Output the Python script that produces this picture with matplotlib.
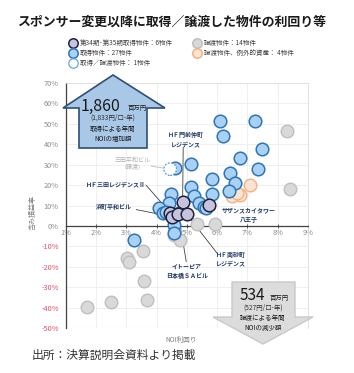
import matplotlib
matplotlib.use('Agg')
import matplotlib.pyplot as plt
from matplotlib.patches import Polygon
from matplotlib.lines import Line2D

plt.rcParams['font.family'] = ['Noto Sans CJK JP', 'DejaVu Sans']

# data: NOI yield (%) and unrealised gain ratio (%)
acq_x = [6.09, 7.24, 6.20, 7.48, 6.77, 7.35, 6.44, 6.58, 5.82, 6.39, 5.82, 5.13, 4.62, 5.13,
         5.24, 4.48, 5.40, 5.57, 4.40, 4.09, 4.20, 4.75, 4.58, 4.56, 3.27, 4.30, 5.62]
acq_y = [51.4, 51.4, 43.9, 37.9, 33.5, 28.1, 26.0, 21.1, 22.8, 17.2, 15.6, 30.4, 28.3, 19.2,
         14.6, 15.6, 11.1, 9.4, 11.1, 8.6, 6.5, 6.2, 0.3, -3.5, -6.8, 7.0, 9.0]

new_names = ['ＨＦ門前仲町\nレジデンス', 'サザンスカイタワー\n八王子', 'ＨＦ三田レジデンスⅡ',
             '浜町平和ビル', 'イトーピア\n日本橋ＳＡビル', 'ＨＦ南砂町\nレジデンス']
new_x = [4.86, 5.73, 4.45, 4.50, 4.72, 5.00]
new_y = [11.9, 10.2, 6.5, 4.5, 5.7, 5.7]

sold_x = [8.32, 8.41, 5.35, 5.92, 4.56, 4.62, 4.78, 3.55, 3.02, 3.08, 3.58, 3.69, 2.49, 1.69]
sold_y = [46.5, 17.9, 1.0, 1.0, -4.4, -2.5, -6.8, -12.5, -15.8, -17.9, -26.8, -36.1, -37.4, -39.7]

exc_x = [7.08, 6.77, 6.50, 6.65]
exc_y = [20.0, 15.3, 14.8, 16.3]

swap_x = [4.45]
swap_y = [27.8]

# label text position and leader start (data coords)
new_label_xy = [(4.97, 42.5), (7.05, 5.5), (2.65, 20.5), (2.6, 9.4), (5.0, -22.0), (6.45, -16.0)]
new_line_from = [(4.88, 38.5), (5.95, 8.4), (3.65, 20.0), (3.33, 8.0), (4.98, -17.5), (6.02, -13.8)]

W, H = 354, 373
fig = plt.figure(figsize=(W / 100, H / 100), dpi=100)


def fx(px):
    return px / W


def fy(py):
    return 1 - py / H


ax = fig.add_axes([fx(65.7), fy(328), (308 - 65.7) / W, (328 - 83) / H])
ax.set_xlim(1, 9)
ax.set_ylim(-50, 70)
ax.set_xticks(range(1, 10))
ax.set_yticks(range(-50, 71, 10))
ax.set_xticklabels([f'{v}%' for v in range(1, 10)])
ax.set_yticklabels([f'{v}%' for v in range(-50, 71, 10)])
ax.grid(True, color='#ececec', lw=0.6)
ax.set_axisbelow(True)

for s in ['top', 'right']:
    ax.spines[s].set_color('#dddddd')
    ax.spines[s].set_linewidth(0.6)
ax.spines['left'].set_color('#404040')
ax.spines['left'].set_linewidth(0.9)
ax.spines['bottom'].set_position(('data', 0))
ax.spines['bottom'].set_color('#404040')
ax.spines['bottom'].set_linewidth(0.9)
ax.axhline(-50, color='#dddddd', lw=0.8, zorder=0)
ax.tick_params(axis='x', direction='inout', length=3, width=0.6, color='#404040',
               labelsize=5.3, labelcolor='#8c8c8c', pad=1)
ax.tick_params(axis='y', direction='in', length=0, labelsize=5.3, labelcolor='#8c8c8c', pad=5)
for lbl in ax.get_yticklabels():
    if lbl.get_text().startswith('-'):
        lbl.set_color('#e0506a')

ax.text(-0.135, 0.47, '含み損益率', transform=ax.transAxes, rotation=90,
        fontsize=5, color='#7f7f7f', ha='center', va='center')
fig.text(fx(181), fy(340), 'NOI利回り', fontsize=4.8, color='#7f7f7f', ha='center', va='center')

ms = 82
ax.scatter(sold_x, sold_y, s=ms, c='#d9d9d9', edgecolors='#bfbfbf', linewidths=1.0, zorder=3)
ax.scatter(exc_x, exc_y, s=ms, c='#fce4d2', edgecolors='#f4b183', linewidths=1.0, zorder=3)
ax.scatter(acq_x, acq_y, s=ms, c='#a9d0f5', edgecolors='#2e75b6', linewidths=1.1, zorder=4)
ax.scatter(swap_x, swap_y, s=ms, c='white', edgecolors='#5b9bd5', linewidths=0.9,
           linestyles=(0, (1.5, 1.2)), zorder=5)
ax.scatter(new_x, new_y, s=ms, c='#c8c3dd', edgecolors='#1c2340', linewidths=1.1, zorder=6)

for name, px, py, (lx, ly), (sx, sy) in zip(new_names, new_x, new_y, new_label_xy, new_line_from):
    ax.annotate('', xy=(px, py), xytext=(sx, sy),
                arrowprops=dict(arrowstyle='-', color='#404040', lw=0.6, shrinkA=0, shrinkB=0),
                zorder=2)
    ax.text(lx, ly, name, fontsize=4.3, fontweight='bold', color='#1f3864',
            ha='center', va='center', linespacing=1.3, zorder=7)

ax.annotate('', xy=(swap_x[0], swap_y[0]), xytext=(3.82, 29.3),
            arrowprops=dict(arrowstyle='-', color='#bfbfbf', lw=0.6, shrinkA=0, shrinkB=3),
            zorder=2)
ax.text(3.22, 30.6, '三田平和ビル\n(譲渡)', fontsize=4.3, color='#b0b0b0',
        ha='center', va='center', linespacing=1.3)

# up arrow (acquisition)
up = [(113, 75), (165, 108), (147, 108), (147, 148), (79, 148), (79, 108), (63, 108)]
fig.add_artist(Polygon([(fx(a), fy(b)) for a, b in up], closed=True, transform=fig.transFigure,
                       facecolor='#a9c8e8', edgecolor='#2f4f74', lw=1.2, zorder=8))
fig.text(fx(101), fy(106), '1,860', fontsize=11.5, color='#1a1a1a', ha='center', va='center', zorder=9)
fig.text(fx(137), fy(108), '百万円', fontsize=4.6, color='#1a1a1a', ha='center', va='center', zorder=9)
fig.text(fx(113), fy(118), '(1,833円/口-年)', fontsize=4.7, color='#333333', ha='center', va='center', zorder=9)
fig.text(fx(113), fy(134), '取得による年間\nNOIの増加額', fontsize=4.7, color='#1a1a1a',
         ha='center', va='center', linespacing=1.3, zorder=9)

# down arrow (disposition)
down = [(232, 282), (295, 282), (295, 317), (313, 317), (263, 344), (213, 317), (232, 317)]
fig.add_artist(Polygon([(fx(a), fy(b)) for a, b in down], closed=True, transform=fig.transFigure,
                       facecolor='#dcdcdc', edgecolor='#c8c8c8', lw=1.0, zorder=8))
fig.text(fx(252), fy(295), '534', fontsize=11, color='#1a1a1a', ha='center', va='center', zorder=9)
fig.text(fx(279), fy(298), '百万円', fontsize=4.6, color='#1a1a1a', ha='center', va='center', zorder=9)
fig.text(fx(263), fy(308), '(527円/口-年)', fontsize=4.7, color='#333333', ha='center', va='center', zorder=9)
fig.text(fx(263), fy(323), '譲渡による年間\nNOIの減少額', fontsize=4.7, color='#1a1a1a',
         ha='center', va='center', linespacing=1.3, zorder=9)

# title
fig.text(fx(172), fy(22), 'スポンサー変更以降に取得／譲渡した物件の利回り等', fontsize=9.3,
         fontweight='bold', color='#1a1a1a', ha='center', va='center')

# legend
leg = [
    (73, 43, '#c8c3dd', '#1c2340', '-', '第34期･第35期取得物件：6物件'),
    (73, 53, '#a9d0f5', '#2e75b6', '-', '取得物件：27物件'),
    (73, 63, 'white', '#5b9bd5', ':', '取得／譲渡物件： 1物件'),
    (197, 43, '#d9d9d9', '#bfbfbf', '-', '譲渡物件：14物件'),
    (197, 53, '#fce4d2', '#f4b183', '-', '譲渡物件、例外的資産： 4物件'),
]
for lx, ly, fc, ec, ls, txt in leg:
    fig.add_artist(Line2D([fx(lx)], [fy(ly)], marker='o', markersize=6.8, markerfacecolor=fc,
                          markeredgecolor=ec, markeredgewidth=1.1 if ls == '-' else 0.8,
                          linestyle='none', transform=fig.transFigure))
    fig.text(fx(lx + 7), fy(ly), txt, fontsize=4.7, color='#404040', ha='left', va='center')

fig.text(fx(32), fy(355), '出所：決算説明会資料より掲載', fontsize=8.5, color='#333333',
         ha='left', va='center')

fig.savefig('out.png', dpi=100, facecolor='white')
